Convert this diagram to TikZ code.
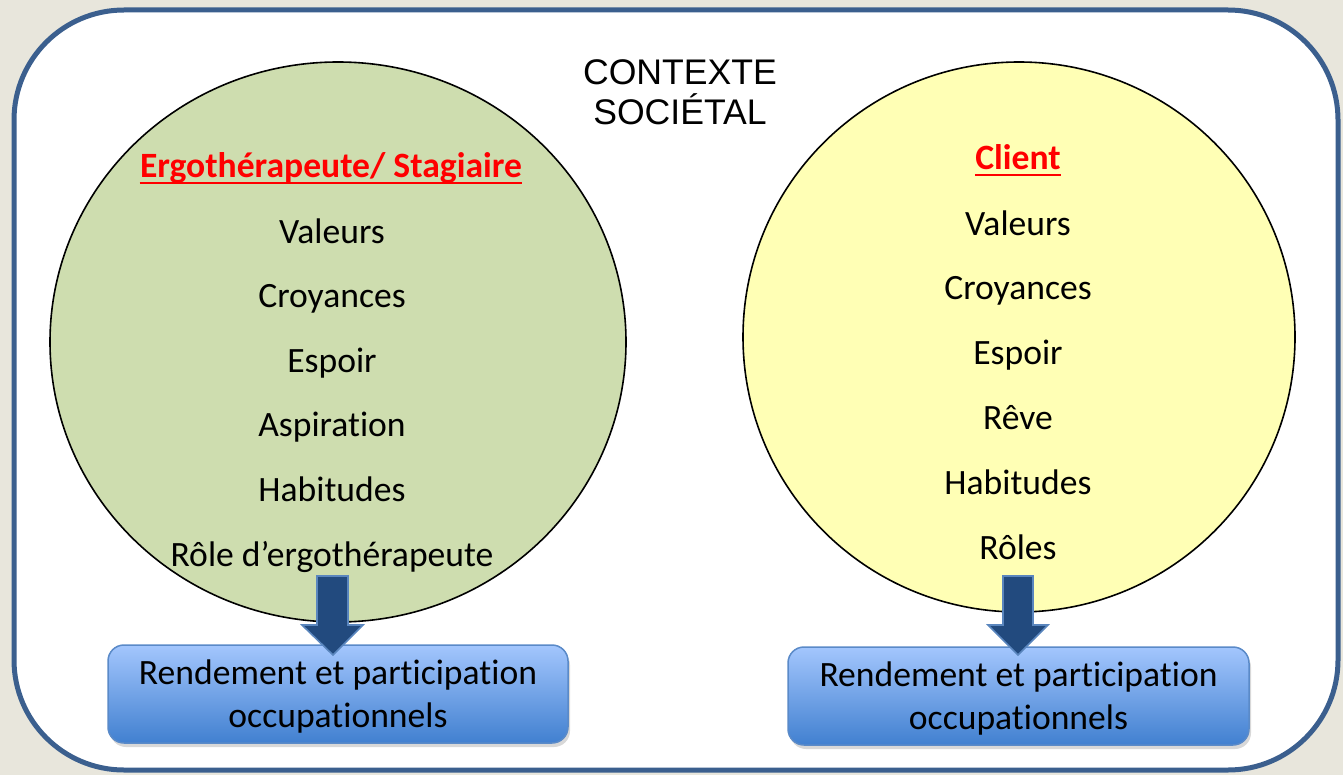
\documentclass[tikz,border=0pt]{standalone}
\usepackage{fontspec}
\setmainfont{Carlito}[Ligatures={TeX,NoCommon}]
\newfontfamily\arialf{Liberation Sans}
\usetikzlibrary{shapes.geometric,shadows}
\definecolor{bgc}{HTML}{E8E6DC}
\definecolor{framec}{HTML}{3B5F8E}
\definecolor{greenc}{HTML}{CEDDAF}
\definecolor{yellowc}{HTML}{FFFFB5}
\definecolor{boxtop}{HTML}{A3C6FD}
\definecolor{boxbot}{HTML}{4180D0}
\definecolor{boxborder}{HTML}{5A8AC8}
\definecolor{arrowfill}{HTML}{224A7E}
\definecolor{arrowedge}{HTML}{5A86BE}
\begin{document}
\begin{tikzpicture}[x=0.5pt,y=-0.5pt,
  item/.style={font=\fontsize{17.8pt}{21.5pt}\selectfont, inner sep=0pt, anchor=base},
  head/.style={font=\fontsize{17.8pt}{21.5pt}\selectfont\bfseries, text=red, inner sep=0pt, anchor=base},
  uline/.style={red, line width=1.3pt},
  circ/.style={ellipse, draw=black, line width=0.8pt, inner sep=0pt},
  outbox/.style={rounded corners=8pt, top color=boxtop, bottom color=boxbot, draw=boxborder,
     line width=0.75pt,
     drop shadow={opacity=0.3, shadow xshift=1pt, shadow yshift=-2pt}},
  boxtext/.style={align=center, inner sep=0pt, font=\fontsize{17.8pt}{21.5pt}\selectfont},
  blockarrow/.style={fill=arrowfill, draw=arrowedge, line width=0.8pt, line join=miter}]
\fill[bgc] (0,0) rectangle (1343,775);
\useasboundingbox (0,0) rectangle (1343,775);
\draw[framec, line width=2.5pt, fill=white, rounded corners=55pt] (14,10) rectangle (1338,770);

\node[circ, fill=greenc, minimum width=288pt, minimum height=280pt] (lc) at (338,342) {};
\node[circ, fill=yellowc, minimum width=276pt, minimum height=275pt] (rc) at (1019,337) {};

\node[font=\arialf\fontsize{17.8pt}{20pt}\selectfont, align=center, inner sep=0pt] (title) at (680,92) {CONTEXTE\\SOCIÉTAL};

\node[head] (lh) at (331,178) {Ergothérapeute/ Stagiaire};
\draw[uline] ([yshift=-2.6pt]lh.base west) -- ([yshift=-2.6pt]lh.base east);
\node[item] (l1) at (332,243) {Valeurs};
\node[item] (l2) at (332,307.6) {Croyances};
\node[item] (l3) at (332,372.2) {Espoir};
\node[item] (l4) at (332,436.8) {Aspiration};
\node[item] (l5) at (332,501.4) {Habitudes};
\node[item] (l6) at (332,566) {Rôle d’ergothérapeute};

\node[head] (rh) at (1018,170) {Client};
\draw[uline] ([yshift=-2.6pt]rh.base west) -- ([yshift=-2.6pt]rh.base east);
\node[item] (r1) at (1018,235) {Valeurs};
\node[item] (r2) at (1018,299.8) {Croyances};
\node[item] (r3) at (1018,364.6) {Espoir};
\node[item] (r4) at (1018,429.4) {Rêve};
\node[item] (r5) at (1018,494.2) {Habitudes};
\node[item] (r6) at (1018,559) {Rôles};

\node[outbox, minimum width=230pt, minimum height=49pt] (lb) at (338,694) {};
\node[boxtext] (lbt) at ([yshift=-1.5pt]lb.center) {Rendement et participation\\occupationnels};
\node[outbox, minimum width=230.5pt, minimum height=49pt] (rb) at (1018.5,696) {};
\node[boxtext] (rbt) at ([yshift=-1.5pt]rb.center) {Rendement et participation\\occupationnels};

\draw[blockarrow] (317,576) -- (348,576) -- (348,625) -- (363,625) -- (333,655) -- (302,625) -- (317,625) -- cycle;
\draw[blockarrow] (1003,576) -- (1033,576) -- (1033,625) -- (1048,625) -- (1018,655) -- (988,625) -- (1003,625) -- cycle;
\end{tikzpicture}
\end{document}
